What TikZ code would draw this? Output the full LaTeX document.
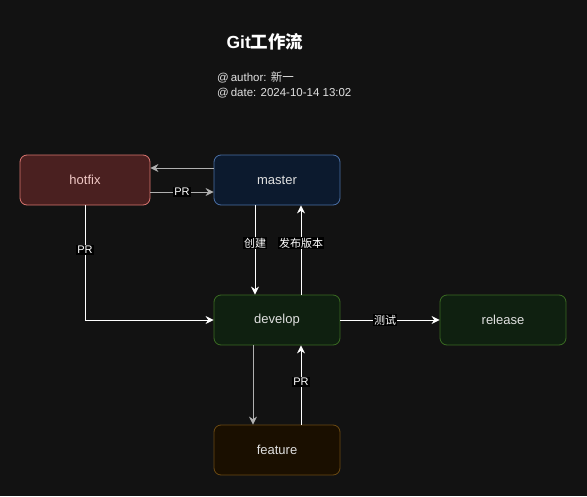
\documentclass[tikz,border=0pt]{standalone}
\usepackage{fontspec}
\setmainfont{Liberation Sans}
\newfontfamily\cjk{Noto Sans CJK SC}
\usetikzlibrary{arrows.meta}
\definecolor{bg}{HTML}{121212}
\definecolor{hotfill}{HTML}{4A2020}
\definecolor{hotdraw}{HTML}{D9756F}
\definecolor{masfill}{HTML}{0C1A2E}
\definecolor{masdraw}{HTML}{4A6FA5}
\definecolor{grnfill}{HTML}{0F2010}
\definecolor{grndraw}{HTML}{3A6A22}
\definecolor{feafill}{HTML}{1A0F00}
\definecolor{feadraw}{HTML}{6B4A12}
\definecolor{txt}{HTML}{E0E0E0}
\definecolor{gry}{HTML}{B0B0B0}
\tikzset{
  x=1pt,y=-1pt,
  box/.style={rounded corners=7pt,line width=0.8pt,minimum width=126pt,minimum height=50pt,inner sep=0pt,font=\fontsize{13}{15}\selectfont,text=txt},
  conn/.style={line width=1pt,-{Stealth[length=8pt,width=8pt]}},
  lbl/.style={fill=black,text=white,inner sep=1pt,font=\fontsize{11}{12}\selectfont}
}
\begin{document}
\begin{tikzpicture}
\fill[bg] (0,0) rectangle (587,496);
\useasboundingbox (0,0) rectangle (587,496);
\node[font=\bfseries\fontsize{17.5}{20}\selectfont,text=white] (title) at (265,42) {Git{\cjk 工作流}};
\node[anchor=west,font=\fontsize{11.5}{15}\selectfont,text=txt,align=left,inner sep=0pt] (meta) at (217,85) {@\,author: {\cjk 新一}\\@\,date: 2024-10-14 13:02};
\node[box,fill=hotfill,draw=hotdraw,minimum width=130pt,text=hotdraw!40!white] (hotfix) at (85,180) {hotfix};
\node[box,fill=masfill,draw=masdraw] (master) at (277,180) {master};
\node[box,fill=grnfill,draw=grndraw] (develop) at (277,320) {develop};
\node[box,fill=grnfill,draw=grndraw] (release) at (503,320) {release};
\node[box,fill=feafill,draw=feadraw] (feature) at (277,450) {feature};
% master -> hotfix
\draw[conn,gry] (master.west |- 0,168) -- (hotfix.east |- 0,168);
% hotfix -> master PR
\draw[conn,gry] (hotfix.east |- 0,192) -- node[lbl]{PR} (master.west |- 0,192);
% master -> develop
\draw[conn,white] (master.south -| 255,0) -- node[lbl,pos=0.42]{\cjk 创建} (develop.north -| 255,0);
% develop -> master
\draw[conn,white] (develop.north -| 301,0) -- node[lbl,pos=0.58]{\cjk 发布版本} (master.south -| 301,0);
% hotfix -> develop
\draw[conn,white] (hotfix.south) -- node[lbl,pos=0.39]{PR} (85,320) -- (develop.west);
% develop -> release
\draw[conn,white] (develop.east) -- node[lbl,pos=0.45]{\cjk 测试} (release.west);
% develop -> feature
\draw[conn,gry] (develop.south -| 253,0) -- (feature.north -| 253,0);
% feature -> develop
\draw[conn,white] (feature.north -| 301,0) -- node[lbl,pos=0.54]{PR} (develop.south -| 301,0);
\end{tikzpicture}
\end{document}
